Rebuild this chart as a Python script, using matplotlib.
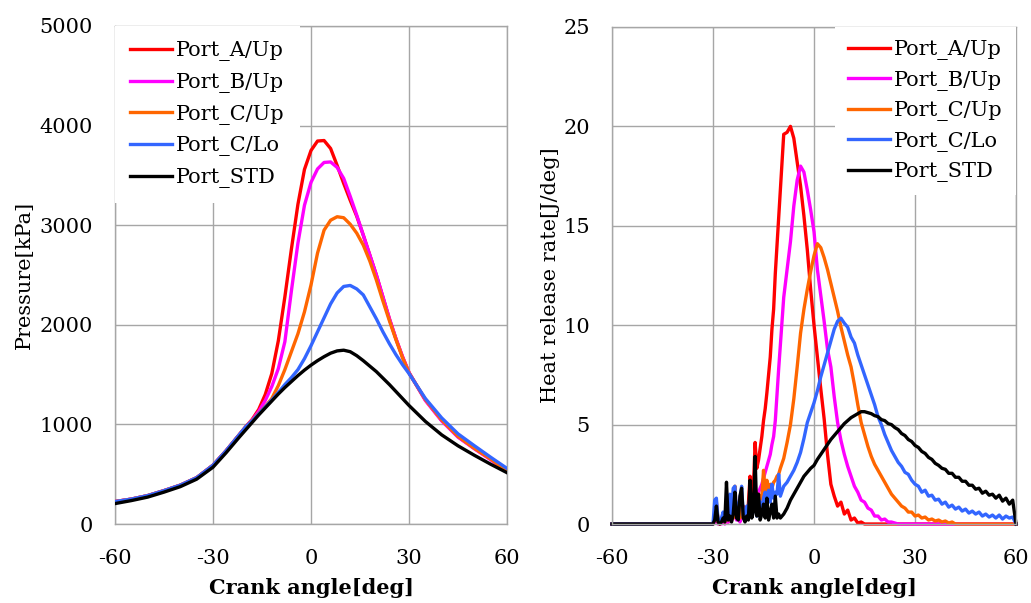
import matplotlib

matplotlib.use("Agg")
import matplotlib.pyplot as plt
import numpy as np

plt.rcParams["font.family"] = ["DejaVu Serif"]
plt.rcParams["axes.unicode_minus"] = False

LABELS = ["Port_A/Up", "Port_B/Up", "Port_C/Up", "Port_C/Lo", "Port_STD"]
COLORS = ["#ff0000", "#ff00ff", "#ff6600", "#3366ff", "#000000"]
GRID = "#a6a6a6"

# --- pressure (left panel) ---------------------------------------------------
P_ANGLE = [-60, -55, -50, -45, -40, -35, -30, -26, -22, -20, -18, -16, -14, -12, -10,
           -8, -6, -4, -2, 0, 2, 4, 6, 8, 10, 12, 14, 16, 18, 20, 22, 24, 26, 28, 30,
           35, 40, 45, 50, 55, 60]
P_COMP = [225, 250, 285, 335, 390, 465, 590, 735, 895, 975]   # -60 .. -20, shared
P_A = P_COMP + [1050, 1150, 1300, 1510, 1840, 2280, 2760, 3210, 3560, 3750, 3845, 3850,
                3770, 3600, 3420, 3250, 3090, 2900, 2700, 2500, 2280, 2060, 1860, 1680,
                1520, 1245, 1040, 876, 760, 650, 530]
P_B = P_COMP + [1045, 1130, 1240, 1380, 1560, 1830, 2340, 2820, 3200, 3430, 3565, 3630,
                3635, 3580, 3470, 3290, 3100, 2900, 2700, 2500, 2280, 2060, 1860, 1680,
                1520, 1240, 1035, 872, 755, 645, 525]
P_CU = P_COMP + [1040, 1110, 1180, 1260, 1390, 1550, 1730, 1910, 2130, 2400, 2720, 2950,
                 3050, 3085, 3075, 3010, 2920, 2800, 2640, 2450, 2240, 2040, 1850, 1670,
                 1515, 1250, 1045, 880, 760, 652, 530]
P_CL = P_COMP + [1035, 1105, 1175, 1245, 1320, 1400, 1470, 1550, 1660, 1790, 1930, 2070,
                 2210, 2320, 2385, 2395, 2360, 2300, 2180, 2060, 1930, 1810, 1700, 1600,
                 1510, 1260, 1065, 905, 786, 670, 558]
P_STD = [205, 235, 270, 320, 375, 450, 570, 715, 870, 945, 1020, 1095, 1165, 1235, 1305,
         1370, 1430, 1490, 1545, 1595, 1640, 1680, 1715, 1738, 1745, 1730, 1690, 1640,
         1585, 1530, 1465, 1400, 1330, 1260, 1190, 1030, 895, 785, 690, 600, 515]

# --- heat release rate (right panel) ----------------------------------------
# grid: -60, then -30..-10.5 every 0.5 deg, then -10..60 every 1 deg
HR_ANGLE = [-60] + list(np.arange(-30, -10, 0.5)) + list(range(-10, 61))

HR_A = [0] + [0, 0.2, 1.0, 0.1, 0, 0.1, 0.3, 0.1, 0.4, 0.1, 1.2, 0.2, 0.4, 1.3, 0.3, 0.5,
              0.2, 0.6, 0.9, 0.3, 0.6, 1.0, 2.4, 0.8, 1.8, 4.1, 2.8, 3.2, 3.8, 4.4, 5.2,
              5.8, 6.6, 7.5, 8.4, 9.8, 10.8, 12.6, 14.0, 15.4] + \
       [16.8, 19.6, 19.7, 20.0, 19.4, 18.2, 17.0, 15.5, 13.8, 11.8, 10.0, 8.4, 6.8, 5.3,
        3.5, 2.0, 1.4, 0.9, 1.1, 0.5, 0.7, 0.2, 0.3, 0.05, 0.1] + [0] * 46
HR_B = [0] + [0, 0.1, 0.6, 0, 0.1, 0, 0.2, 0, 0.3, 0.1, 0.8, 0.2, 0.3, 0.9, 0.2, 0.4,
              0.1, 0.5, 0.7, 0.2, 0.5, 0.6, 1.2, 0.5, 0.9, 1.6, 1.2, 1.6, 1.8, 2.0, 2.3,
              2.6, 2.9, 3.2, 3.5, 4.0, 4.4, 5.2, 6.5, 7.8] + \
       [9.0, 11.4, 12.8, 14.2, 16.0, 17.3, 18.0, 17.7, 16.8, 15.8, 14.7, 12.8, 11.5, 10.2,
        8.8, 7.9, 6.4, 5.1, 4.2, 3.5, 2.9, 2.4, 1.9, 1.6, 1.2, 1.1, 0.8, 0.7, 0.4, 0.4,
        0.2, 0.25, 0.1, 0.1, 0.05] + [0] * 36
HR_CU = [0] + [0, 0.3, 1.1, 0.1, 0, 0.2, 0.4, 0.1, 0.5, 0.2, 1.3, 1.4, 0.3, 1.9, 0.4, 0.6,
               0.3, 1.2, 0.5, 0.2, 0.6, 0.4, 1.3, 0.5, 1.0, 2.0, 0.8, 1.5, 1.2, 1.4, 2.7,
               1.6, 2.2, 1.5, 2.0, 1.8, 2.1, 2.2, 2.4, 2.5] + \
        [2.8, 3.3, 4.1, 5.0, 6.3, 7.9, 9.6, 10.8, 11.8, 12.7, 13.5, 14.1, 13.9, 13.4, 12.8,
         12.1, 11.4, 10.7, 9.9, 9.2, 8.5, 7.9, 7.0, 6.0, 5.1, 4.5, 3.9, 3.4, 3.0, 2.7, 2.4,
         2.1, 1.8, 1.5, 1.3, 1.1, 0.9, 0.8, 0.6, 0.6, 0.4, 0.45, 0.3, 0.35, 0.2, 0.25,
         0.15, 0.2, 0.1, 0.15, 0.05, 0.1] + [0] * 19
HR_CL = [0] + [0, 1.2, 1.3, 0.2, 0.1, 0.3, 0.6, 0.2, 1.0, 0.3, 1.5, 0.4, 1.8, 1.9, 0.5, 0.8,
               1.3, 1.9, 0.4, 0.3, 0.9, 0.5, 1.5, 0.6, 0.8, 1.0, 0.4, 1.2, 1.1, 0.6, 1.3,
               1.6, 0.9, 1.7, 1.1, 2.0, 1.3, 1.6, 1.5, 2.5] + \
        [1.4, 1.9, 2.1, 2.4, 2.7, 3.1, 3.6, 4.3, 5.1, 5.6, 6.1, 6.7, 7.4, 8.0, 8.6, 9.2,
         9.8, 10.2, 10.35, 10.1, 9.9, 9.4, 9.1, 8.5, 8.0, 7.5, 7.0, 6.5, 6.0, 5.4, 5.0,
         4.5, 4.1, 3.7, 3.4, 3.1, 2.9, 2.6, 2.5, 2.2, 2.0, 1.9, 1.6, 1.7, 1.4, 1.45, 1.2,
         1.25, 1.0, 1.1, 0.85, 0.95, 0.75, 0.85, 0.65, 0.75, 0.55, 0.65, 0.5, 0.6, 0.4,
         0.5, 0.35, 0.45, 0.3, 0.45, 0.25, 0.4, 0.3, 0.35, 0.0]
HR_STD = [0] + [0, 0.2, 0.9, 0.1, 0, 0.1, 0.3, 0.1, 2.1, 0.2, 0.4, 0.1, 0.5, 1.6, 0.3, 0.2,
                1.4, 1.8, 0.3, 0.1, 0.4, 0.2, 2.2, 0.3, 0.6, 3.4, 0.4, 1.5, 0.2, 0.5, 1.0,
                0.3, 1.3, 0.2, 0.6, 1.0, 0.3, 1.4, 0.3, 0.5] + \
         [0.3, 0.5, 0.8, 1.2, 1.5, 1.8, 2.1, 2.4, 2.6, 2.8, 2.95, 3.25, 3.5, 3.75, 4.0,
          4.25, 4.45, 4.65, 4.85, 5.05, 5.2, 5.35, 5.45, 5.55, 5.65, 5.65, 5.6, 5.55, 5.45,
          5.4, 5.25, 5.2, 5.05, 5.0, 4.85, 4.75, 4.55, 4.45, 4.25, 4.15, 3.95, 3.85, 3.65,
          3.55, 3.35, 3.25, 3.05, 2.95, 2.8, 2.75, 2.55, 2.55, 2.35, 2.35, 2.15, 2.15,
          1.95, 1.95, 1.75, 1.8, 1.55, 1.65, 1.45, 1.5, 1.3, 1.45, 1.15, 1.3, 1.0, 1.2, 0.0]

P_SERIES = [P_A, P_B, P_CU, P_CL, P_STD]
HR_SERIES = [HR_A, HR_B, HR_CU, HR_CL, HR_STD]

X_TICKS = [-60, -30, 0, 30, 60]
X_TICKLABELS = ["-60", "-30", "0", "30", "60"]
FS = 15
LW = 2.4


def style(ax):
    ax.set_xlim(-60, 60)
    ax.set_xticks(X_TICKS)
    ax.set_xticklabels(X_TICKLABELS)
    ax.grid(True, color=GRID, lw=1.0)
    ax.set_axisbelow(True)
    for s in ax.spines.values():
        s.set_color(GRID)
        s.set_linewidth(1.0)
    ax.tick_params(axis="both", length=0, labelsize=FS)
    ax.tick_params(axis="x", pad=18)
    ax.tick_params(axis="y", pad=16)
    ax.set_xlabel("Crank angle[deg]", fontsize=FS, fontweight="bold", labelpad=7)


fig = plt.figure(figsize=(10.31, 6.03), dpi=100)
axL = fig.add_axes([0.1115, 0.131, 0.3803, 0.8259])
axR = fig.add_axes([0.5936, 0.131, 0.3919, 0.8243])

# lines sit above the white legend box, as in the original
for vals, lab, col in zip(P_SERIES, LABELS, COLORS):
    axL.plot(P_ANGLE, vals, color=col, lw=LW, label=lab, zorder=6)
style(axL)
axL.set_ylim(0, 5000)
axL.set_yticks([0, 1000, 2000, 3000, 4000, 5000])
axL.set_ylabel("Pressure[kPa]", fontsize=FS, labelpad=4)
axL.legend(loc="upper left", bbox_to_anchor=(0, 1), borderaxespad=0, fontsize=FS,
           handlelength=2.0, handletextpad=0.2, labelspacing=0.56, borderpad=0.74,
           frameon=True, fancybox=False, framealpha=1, facecolor="white",
           edgecolor="none")

for vals, lab, col in zip(HR_SERIES, LABELS, COLORS):
    axR.plot(HR_ANGLE, vals, color=col, lw=LW, label=lab, clip_on=False)
style(axR)
axR.set_ylim(0, 25)
axR.set_yticks([0, 5, 10, 15, 20, 25])
axR.set_ylabel("Heat release rate[J/deg]", fontsize=FS, labelpad=2)
axR.legend(loc="upper right", bbox_to_anchor=(1, 1), borderaxespad=0, fontsize=FS,
           handlelength=2.0, handletextpad=0.2, labelspacing=0.50, borderpad=0.64,
           frameon=True, fancybox=False, framealpha=1, facecolor="white",
           edgecolor="none")

fig.savefig("out.png", dpi=100)
